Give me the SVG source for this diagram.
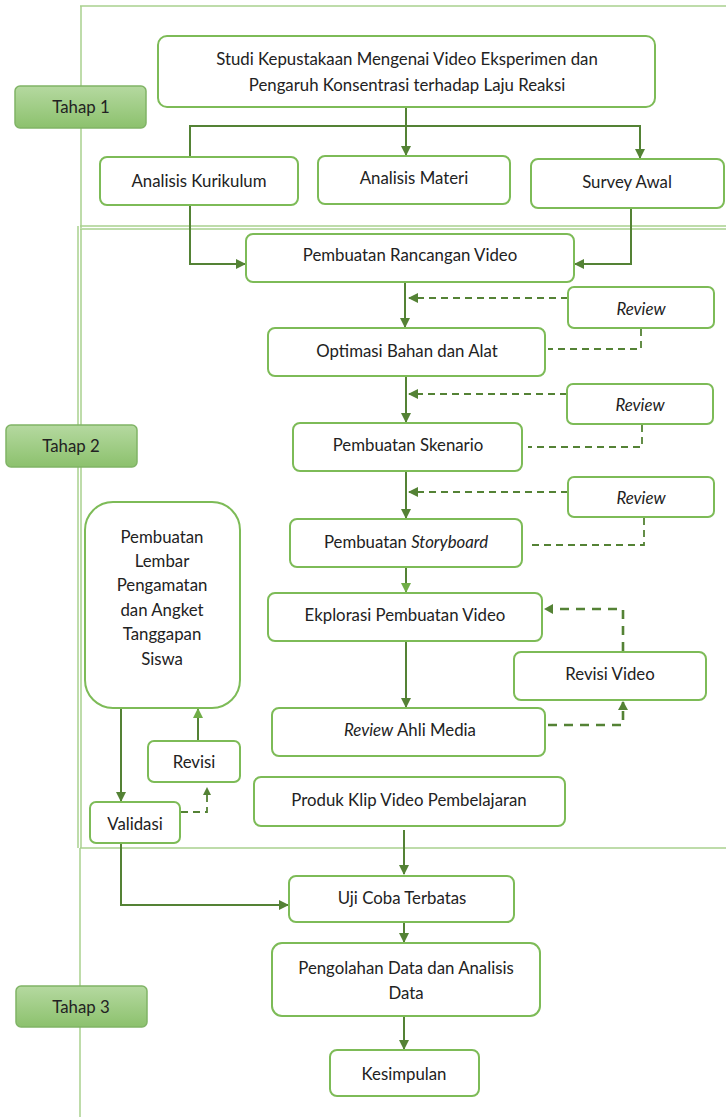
<svg xmlns="http://www.w3.org/2000/svg" width="726" height="1117" viewBox="0 0 726 1117">
<defs>
<linearGradient id="tg" x1="0" y1="0" x2="0" y2="1">
<stop offset="0" stop-color="#b5d9a0"/>
<stop offset="1" stop-color="#8cc16d"/>
</linearGradient>
<marker id="ah" viewBox="0 0 10 10" refX="9" refY="5" markerWidth="10" markerHeight="10" markerUnits="userSpaceOnUse" orient="auto">
<path d="M0,0 L10,5 L0,10 z" fill="#548235"/>
</marker>
<marker id="ahl" viewBox="0 0 10 10" refX="9" refY="5" markerWidth="10" markerHeight="10" markerUnits="userSpaceOnUse" orient="auto">
<path d="M0,0 L10,5 L0,10 z" fill="#70ad47"/>
</marker>
</defs>
<style>
.n{fill:#fff;stroke:#7dbb57;stroke-width:2}
.t{fill:url(#tg);stroke:#80b466;stroke-width:1.5}
.frame{fill:none;stroke:#a9d18e;stroke-width:1.5}
text{font-family:Lato,"Open Sans","Liberation Sans",sans-serif;font-size:16.8px;fill:#222;text-anchor:middle}
.c{fill:none;stroke:#548235;stroke-width:2}
.d{fill:none;stroke:#548235;stroke-width:1.8;stroke-dasharray:7,5}
.dd{fill:none;stroke:#548235;stroke-width:2.6;stroke-dasharray:9,7}
</style>
<g id="frames">
<path class="frame" d="M80,6 H726 M81,6 V228" stroke-width="2.5"/>
<path class="frame" d="M80,226 H726 M80,229 H726 M78,226 V848 M81,229 V848 M80,848 H726"/>
<path class="frame" d="M80,848 V1117"/>
</g>
<g id="tahap1"><rect class="t" x="15" y="86" width="131" height="42" rx="5"/><text x="81" y="113">Tahap 1</text></g>
<g id="tahap2"><rect class="t" x="6" y="425" width="131" height="42" rx="5"/><text x="71" y="452">Tahap 2</text></g>
<g id="tahap3"><rect class="t" x="16" y="986" width="131" height="41" rx="5"/><text x="81" y="1013">Tahap 3</text></g>

<g id="connectors">
<path class="c" d="M406,107 V155" marker-end="url(#ah)"/>
<path class="c" d="M190,156 V126 H640 V158" marker-end="url(#ah)"/>
<path class="c" d="M190,205 V264 H245" marker-end="url(#ah)"/>
<path class="c" d="M631,208 V264 H575" marker-end="url(#ah)"/>
<path class="c" d="M405,282 V327" marker-end="url(#ah)"/>
<path class="d" d="M568,298 H409" marker-end="url(#ah)"/>
<path class="d" d="M641,329 V349 H548"/>
<path class="c" d="M406,376 V422" marker-end="url(#ah)"/>
<path class="d" d="M567,394 H409" marker-end="url(#ah)"/>
<path class="d" d="M642,425 V447 H528"/>
<path class="c" d="M406,471 V518" marker-end="url(#ah)"/>
<path class="d" d="M568,492 H409" marker-end="url(#ah)"/>
<path class="d" d="M644,518 V545 H530"/>
<path class="c" d="M406,567 V592" stroke="#70ad47" marker-end="url(#ahl)"/>
<path class="c" d="M406,641 V707" marker-end="url(#ah)"/>
<path class="dd" d="M548,725 H623 V702"/>
<path d="M618,710 L623,701 L628,710 z" fill="#548235"/>
<path class="dd" d="M623,651 V609 H553"/>
<path d="M553,604 L544,609 L553,614 z" fill="#548235"/>
<path class="c" d="M404,830 V874" marker-end="url(#ah)"/>
<path class="c" d="M404,922 V942" marker-end="url(#ah)"/>
<path class="c" d="M404,1016 V1049" marker-end="url(#ah)"/>
<path class="c" d="M121,708 V801" marker-end="url(#ah)"/>
<path class="c" d="M198,741 V709" stroke="#70ad47" stroke-width="1.6" marker-end="url(#ahl)"/>
<path class="d" d="M181,812 H207 V789" stroke-width="2.4"/>
<path d="M203,795 L207,787 L211,795 z" fill="#548235"/>
<path class="c" d="M121,843 V905 H288" marker-end="url(#ah)"/>
</g>

<g id="studi"><rect class="n" x="158" y="36" width="497" height="71" rx="9"/><text x="407" y="65">Studi Kepustakaan Mengenai Video Eksperimen dan</text><text x="407" y="91">Pengaruh Konsentrasi terhadap Laju Reaksi</text></g>
<g id="kurikulum"><rect class="n" x="100" y="157" width="198" height="48" rx="7"/><text x="199" y="187">Analisis Kurikulum</text></g>
<g id="materi"><rect class="n" x="318" y="156" width="192" height="48" rx="7"/><text x="414" y="184">Analisis Materi</text></g>
<g id="survey"><rect class="n" x="531" y="159" width="193" height="49" rx="7"/><text x="627" y="188">Survey Awal</text></g>
<g id="rancangan"><rect class="n" x="246" y="234" width="328" height="48" rx="7"/><text x="410" y="261">Pembuatan Rancangan Video</text></g>
<g id="review1"><rect class="n" x="568" y="287" width="146" height="41" rx="6"/><text x="641" y="315" font-style="italic">Review</text></g>
<g id="optimasi"><rect class="n" x="268" y="328" width="277" height="48" rx="7"/><text x="407" y="357">Optimasi Bahan dan Alat</text></g>
<g id="review2"><rect class="n" x="567" y="384" width="146" height="40" rx="6"/><text x="640" y="411" font-style="italic">Review</text></g>
<g id="skenario"><rect class="n" x="293" y="423" width="229" height="48" rx="7"/><text x="408" y="451">Pembuatan Skenario</text></g>
<g id="review3"><rect class="n" x="568" y="477" width="146" height="40" rx="6"/><text x="641" y="504" font-style="italic">Review</text></g>
<g id="storyboard"><rect class="n" x="290" y="519" width="232" height="48" rx="7"/><text x="406" y="548">Pembuatan <tspan font-style="italic">Storyboard</tspan></text></g>
<g id="ekplorasi"><rect class="n" x="268" y="593" width="274" height="48" rx="7"/><text x="405" y="621">Ekplorasi Pembuatan Video</text></g>
<g id="revisivideo"><rect class="n" x="514" y="652" width="192" height="48" rx="7"/><text x="610" y="680">Revisi Video</text></g>
<g id="reviewahli"><rect class="n" x="272" y="708" width="273" height="48" rx="7"/><text x="410" y="736"><tspan font-style="italic">Review</tspan> Ahli Media</text></g>
<g id="produk"><rect class="n" x="254" y="777" width="311" height="49" rx="7"/><text x="409" y="806">Produk Klip Video Pembelajaran</text></g>
<g id="uji"><rect class="n" x="289" y="876" width="225" height="46" rx="7"/><text x="402" y="904">Uji Coba Terbatas</text></g>
<g id="pengolahan"><rect class="n" x="272" y="943" width="268" height="73" rx="10"/><text x="406" y="974">Pengolahan Data dan Analisis</text><text x="406" y="999">Data</text></g>
<g id="kesimpulan"><rect class="n" x="330" y="1050" width="149" height="46" rx="7"/><text x="404" y="1080">Kesimpulan</text></g>
<g id="lembar"><rect class="n" x="85" y="502" width="155" height="206" rx="28"/>
<text x="162" y="543">Pembuatan</text><text x="162" y="567">Lembar</text><text x="162" y="591">Pengamatan</text><text x="162" y="616">dan Angket</text><text x="162" y="640">Tanggapan</text><text x="162" y="665">Siswa</text></g>
<g id="revisi"><rect class="n" x="148" y="741" width="92" height="41" rx="6"/><text x="194" y="768">Revisi</text></g>
<g id="validasi"><rect class="n" x="90" y="802" width="90" height="41" rx="6"/><text x="135" y="830">Validasi</text></g>
</svg>
